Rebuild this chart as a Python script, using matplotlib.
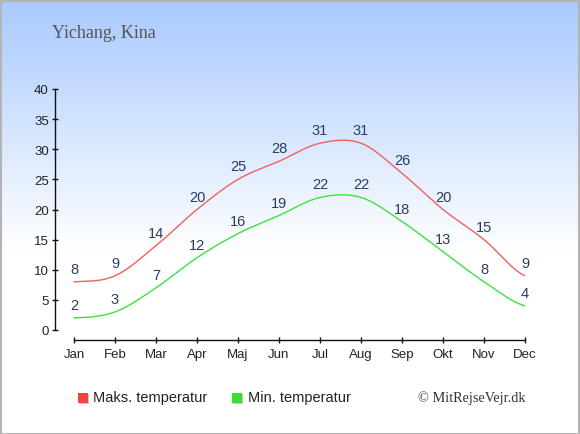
import numpy as np
import matplotlib
matplotlib.use("Agg")
import matplotlib.pyplot as plt
from matplotlib.patches import Rectangle

months = ["Jan", "Feb", "Mar", "Apr", "Maj", "Jun", "Jul", "Aug", "Sep", "Okt", "Nov", "Dec"]
max_temp = [8, 9, 14, 20, 25, 28, 31, 31, 26, 20, 15, 9]
min_temp = [2, 3, 7, 12, 16, 19, 22, 22, 18, 13, 8, 4]
yticks = [0, 5, 10, 15, 20, 25, 30, 35, 40]
title = "Yichang, Kina"
legend_labels = ["Maks. temperatur", "Min. temperatur"]
credit = "\u00a9 MitRejseVejr.dk"

W, H = 580, 435
fig = plt.figure(figsize=(W / 100, H / 100), dpi=100)

# background gradient
bg = fig.add_axes([0, 0, 1, 1], zorder=-10)
rows = np.linspace(0, 1, H)
top = np.array([168, 201, 254]) / 255.0
frac = np.clip(rows / 0.58, 0, 1)[:, None]
img = top[None, :] * (1 - frac) + np.ones(3)[None, :] * frac
img = np.repeat(img[:, None, :], 2, axis=1)
bg.imshow(img, aspect="auto", extent=[0, 1, 0, 1], origin="upper")
bg.set_xlim(0, 1); bg.set_ylim(0, 1)
bg.axis("off")
bg.add_patch(Rectangle((0.5 / W, 0.5 / H), 1 - 2 / W, 1 - 2 / H, fill=False,
                       edgecolor="#b4b4b4", linewidth=1.5, transform=bg.transAxes))

def px(x, y):
    return x / W, 1 - y / H

ax = fig.add_axes([55 / W, (H - 331) / H, 470 / W, 241 / H])
ax.set_facecolor("none")

def smooth(vals, n=30):
    v = np.asarray(vals, dtype=float)
    k = len(v)
    m = np.zeros(k)
    m[1:-1] = (v[2:] - v[:-2]) / 2
    m[0] = (v[1] - v[0]) / 3
    m[-1] = (v[-1] - v[-2]) / 2
    xs, ys = [], []
    for i in range(k - 1):
        t = np.linspace(0, 1, n, endpoint=(i == k - 2))
        h00 = 2 * t**3 - 3 * t**2 + 1
        h10 = t**3 - 2 * t**2 + t
        h01 = -2 * t**3 + 3 * t**2
        h11 = t**3 - t**2
        ys.append(h00 * v[i] + h10 * m[i] + h01 * v[i + 1] + h11 * m[i + 1])
        xs.append(i + t)
    return np.concatenate(xs), np.concatenate(ys)

x = np.arange(len(months))
for vals, col in [(max_temp, "#f06060"), (min_temp, "#3fe03f")]:
    sx, sy = smooth(vals)
    ax.plot(sx, sy, color=col, linewidth=1.0, solid_capstyle="round")
    for xi, v in zip(x, vals):
        ax.annotate(str(v), (xi, v), xytext=(0, 13 * 0.72), textcoords="offset points",
                    ha="center", va="center", fontsize=10.5, color="#2a3d5e",
                    family="Liberation Sans")

ax.set_xlim(-19 / 41, 11)
ax.set_ylim(0, 40)
ax.set_xticks(x)
ax.set_xticklabels(months)
ax.set_yticks(yticks)
for s in ["top", "right"]:
    ax.spines[s].set_visible(False)
ax.spines["bottom"].set_position(("outward", 7.2))
ax.spines["bottom"].set_bounds(0, 11)
ax.spines["left"].set_bounds(0, 40)
for s in ["bottom", "left"]:
    ax.spines[s].set_linewidth(1.0)
    ax.spines[s].set_color("#111111")
ax.tick_params(axis="both", direction="inout", length=5, width=1, colors="#111111",
               labelsize=9.5, labelcolor="#222222")
ax.tick_params(axis="x", pad=3.5)
ax.tick_params(axis="y", pad=2)
for lab in ax.get_xticklabels() + ax.get_yticklabels():
    lab.set_family("Liberation Sans")

fig.text(*px(52, 33), title, ha="left", va="center", fontsize=13, color="#555555",
         family="Liberation Serif")

# legend
for (lx, tx, col, lab) in [(78, 93, "#ee4444", legend_labels[0]), (232, 248, "#33e033", legend_labels[1])]:
    x0, y0 = px(lx + 1, 404 + 1)
    fig.patches.append(Rectangle((x0, y0), 10 / W, 10 / H, facecolor="#c8c8c8",
                                 edgecolor="none", transform=fig.transFigure, figure=fig))
    x0, y0 = px(lx, 404)
    fig.patches.append(Rectangle((x0, y0), 10 / W, 10 / H, facecolor=col,
                                 edgecolor="none", transform=fig.transFigure, figure=fig))
    fig.text(*px(tx, 398), lab, ha="left", va="center", fontsize=10.5, color="#222222",
             family="Liberation Sans")

fig.text(*px(526, 398), credit, ha="right", va="center", fontsize=10.3, color="#333333",
         family="Liberation Serif")

fig.savefig("out.png", dpi=100)
